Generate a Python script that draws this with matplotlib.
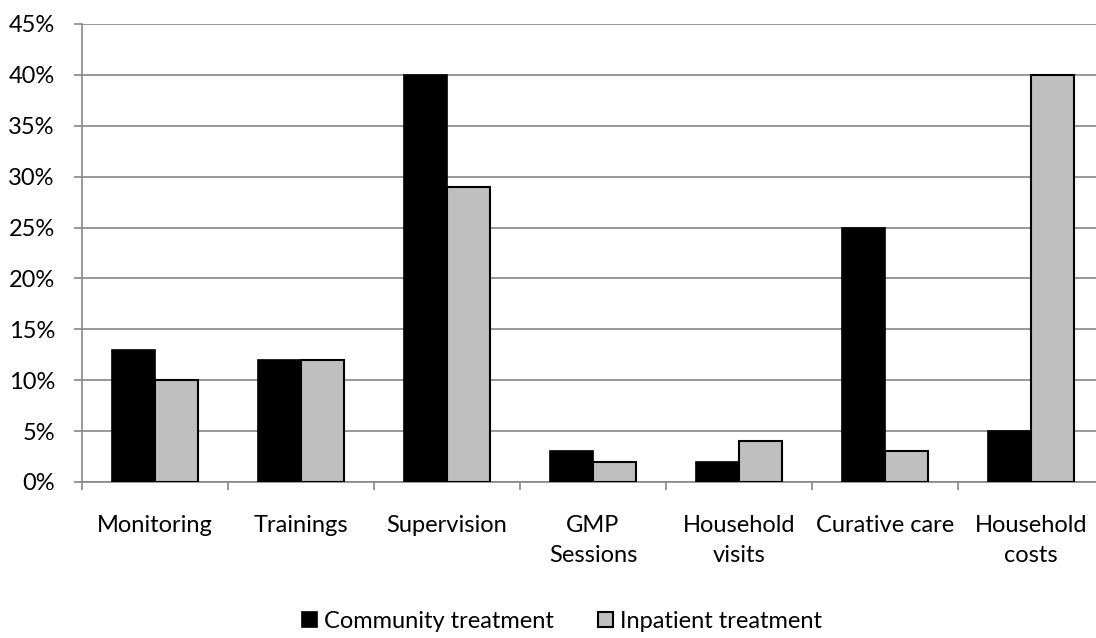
import numpy as np
import matplotlib.pyplot as plt
from matplotlib.ticker import MultipleLocator, FuncFormatter

categories = ['Monitoring', 'Trainings', 'Supervision', 'GMP\nSessions',
              'Household\nvisits', 'Curative care', 'Household\ncosts']
community = [13, 12, 40, 3, 2, 25, 5]
inpatient = [10, 12, 29, 2, 4, 3, 40]
series_names = ['Community treatment', 'Inpatient treatment']

plt.rcParams['font.family'] = ['Lato', 'DejaVu Sans']
FS = 17

fig = plt.figure(figsize=(10.96, 6.38), dpi=100)
# plot area runs slightly past the right edge of the figure
ax = fig.add_axes([82 / 1096, 156 / 638, 1022 / 1096, 458 / 638])

x = np.arange(len(categories))
w = 0.295
ax.bar(x - w / 2, community, w, color='black', edgecolor='black', linewidth=1.2,
       label=series_names[0], zorder=3)
ax.bar(x + w / 2, inpatient, w, color='#bfbfbf', edgecolor='black', linewidth=1.5,
       label=series_names[1], zorder=3)

ax.set_xlim(-0.5, len(categories) - 0.5)
ax.set_ylim(0, 45)
ax.yaxis.set_major_locator(MultipleLocator(5))
ax.yaxis.set_major_formatter(FuncFormatter(lambda v, p: f'{v:.0f}%'))
ax.grid(axis='y', color='#868686', linewidth=1.2, zorder=0)

ax.set_xticks(x)
ax.set_xticklabels(categories, fontsize=FS, linespacing=1.5)
ax.set_xticks(np.arange(len(categories) + 1) - 0.5, minor=True)
ax.tick_params(axis='x', which='major', length=0, pad=24)
ax.tick_params(axis='x', which='minor', length=5.5, width=1.2, color='#868686')
ax.tick_params(axis='y', length=5.5, width=1.2, color='#868686', labelsize=FS, pad=14)

for side in ['top', 'right']:
    ax.spines[side].set_visible(False)
for side in ['left', 'bottom']:
    ax.spines[side].set_color('#868686')
    ax.spines[side].set_linewidth(1.2)

fig.legend(loc='center', bbox_to_anchor=(562 / 1096, 1 - 621 / 638), ncol=2, frameon=False,
           fontsize=FS, handlelength=0.6, handleheight=0.6, handletextpad=0.3,
           columnspacing=1.9)

fig.savefig('out.png', dpi=100)
